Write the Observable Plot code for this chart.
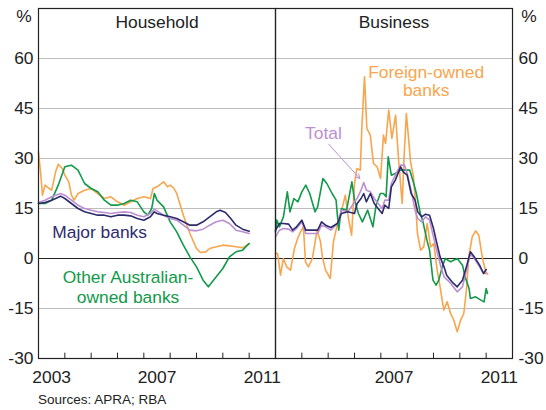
<!DOCTYPE html>
<html>
<head>
<meta charset="utf-8">
<script src="https://cdn.jsdelivr.net/npm/d3@7"></script>
<script src="https://cdn.jsdelivr.net/npm/@observablehq/plot@0.6"></script>
<style>
  html, body { margin: 0; padding: 0; background: #fff; }
  #chart svg { display: block; }
  #caption { font-family: "Liberation Sans", Arial, sans-serif; font-size: 13.5px; color: #222; padding-left: 38px; line-height: 20px; height: 20px; }
</style>
</head>
<body>
<div id="chart"></div>
<div id="caption">Sources: APRA; RBA</div>
<script>
// ---- categories ----
const panels = ["Household", "Business"];
const seriesNames = ["Foreign-owned banks", "Other Australian-owned banks", "Total", "Major banks"];
const seriesColors = ["#f8a54d", "#119a4a", "#bd8fd2", "#2d2b6c"];

// ---- tick labels ----
const yTicks = [-30, -15, 0, 15, 30, 45, 60];
const gridValues = [-15, 15, 30, 45, 60];
const yearTicks = [2004, 2005, 2006, 2007, 2008, 2009, 2010, 2011];
const householdYearLabels = ["2003", "2007", "2011"];
const businessYearLabels = ["2007", "2011"];

// ---- series values: [year, per cent] ----
const householdMajor = [[2003.0,16.5],[2003.25,16.8],[2003.5,17.5],[2003.84,18.7],[2004.0,18],[2004.25,16.5],[2004.5,15],[2004.75,14],[2005.0,13.5],[2005.25,13],[2005.5,13],[2005.75,12.5],[2006.0,13],[2006.25,13],[2006.5,12.8],[2006.75,12],[2007.0,11.5],[2007.25,12.5],[2007.4,14],[2007.5,13.5],[2007.75,13],[2008.0,12.5],[2008.25,12],[2008.5,11],[2008.75,10],[2009.0,10],[2009.25,11],[2009.5,12.5],[2009.75,14],[2009.9,14.5],[2010.1,13.8],[2010.3,12],[2010.5,10],[2010.75,8.8],[2011.0,8.2]];
const householdTotal = [[2003.0,16.8],[2003.25,17.5],[2003.5,18.5],[2003.84,19.5],[2004.0,19],[2004.25,17.5],[2004.5,16],[2004.75,15],[2005.0,14.5],[2005.25,14],[2005.5,13.8],[2005.75,13.5],[2006.0,13.8],[2006.25,14],[2006.5,13.8],[2006.75,13],[2007.0,12.5],[2007.25,13.5],[2007.4,14.8],[2007.5,14.3],[2007.75,13],[2008.0,12],[2008.25,11.5],[2008.5,10],[2008.75,8.5],[2009.0,8.3],[2009.25,8.8],[2009.5,10],[2009.75,11],[2010.0,11.5],[2010.25,10.5],[2010.5,8.5],[2010.75,8],[2011.0,7.5]];
const householdOther = [[2003.0,16.5],[2003.25,16.5],[2003.5,17.5],[2003.75,22],[2004.0,27.5],[2004.25,28],[2004.5,26.5],[2004.75,22.5],[2005.0,21],[2005.25,20],[2005.5,17.5],[2005.75,16],[2006.0,16],[2006.25,16.5],[2006.5,17.5],[2006.75,17],[2007.0,14],[2007.15,13],[2007.3,15],[2007.4,19.5],[2007.5,17.5],[2007.75,15.5],[2008.0,11],[2008.25,8],[2008.5,4],[2008.75,0.5],[2009.0,-2.5],[2009.25,-6.5],[2009.45,-8.5],[2009.75,-5.5],[2010.0,-3],[2010.25,0.5],[2010.5,2],[2010.75,2.5],[2011.0,4.5]];
const householdForeign = [[2003.0,32],[2003.1,24],[2003.15,19],[2003.25,22],[2003.4,21],[2003.5,20.5],[2003.65,26],[2003.75,28.3],[2003.9,27],[2004.0,25],[2004.15,23],[2004.25,19],[2004.35,17.5],[2004.5,19.5],[2004.75,20.5],[2005.0,21],[2005.25,19.5],[2005.5,18],[2005.75,18.5],[2006.0,17],[2006.25,16],[2006.5,17],[2006.75,18],[2007.0,18.5],[2007.25,18],[2007.35,21],[2007.5,21.5],[2007.75,23],[2007.9,21.5],[2008.0,22],[2008.15,21],[2008.25,19.5],[2008.5,13],[2008.75,7.5],[2009.0,3],[2009.15,1.8],[2009.35,2],[2009.5,3],[2009.75,3.5],[2010.0,4],[2010.25,3.8],[2010.5,3.5],[2010.75,3.2],[2011.0,4.5]];

const businessMajor = [[2003.0,8.5],[2003.15,10.5],[2003.3,10.5],[2003.5,10.3],[2003.65,8.5],[2003.8,9.5],[2004.0,11.5],[2004.15,8.5],[2004.4,8.5],[2004.6,8.5],[2004.75,11],[2004.9,10],[2005.1,9.3],[2005.35,10.5],[2005.5,13.5],[2005.75,14],[2006.0,13.5],[2006.1,16.5],[2006.25,18],[2006.35,19.5],[2006.45,17],[2006.6,19.5],[2006.75,16.5],[2006.95,14.5],[2007.05,13.5],[2007.15,16],[2007.3,15],[2007.4,21.5],[2007.55,23.5],[2007.75,27.5],[2007.85,26],[2008.0,25],[2008.15,19.5],[2008.3,17.5],[2008.4,14],[2008.55,12.5],[2008.7,13.3],[2008.85,13],[2009.0,9],[2009.1,5.5],[2009.25,0.5],[2009.4,-2.5],[2009.5,-5],[2009.7,-7],[2009.9,-8.5],[2010.1,-6.5],[2010.25,-2.5],[2010.4,2],[2010.55,0.5],[2010.75,-2],[2010.9,-4.5],[2011.0,-3.3]];
const businessTotal = [[2003.0,6.5],[2003.15,8.5],[2003.3,9],[2003.5,8.8],[2003.65,8],[2003.8,9],[2004.0,11],[2004.15,7.5],[2004.4,7.5],[2004.6,7.5],[2004.75,10],[2004.9,9.5],[2005.1,8.5],[2005.35,10.5],[2005.5,14.5],[2005.75,14],[2006.0,17],[2006.1,18],[2006.25,20.5],[2006.35,22.8],[2006.45,20.5],[2006.6,20],[2006.75,18],[2006.95,16],[2007.05,15],[2007.15,17.5],[2007.3,17.5],[2007.4,22.5],[2007.55,25],[2007.75,28],[2007.9,28],[2008.0,25.5],[2008.15,20.5],[2008.3,14.5],[2008.4,12],[2008.55,11],[2008.7,12.5],[2008.85,11.5],[2009.0,6.5],[2009.15,1.5],[2009.3,-3],[2009.4,-5.5],[2009.6,-7],[2009.9,-10],[2010.1,-8.5],[2010.25,-3.5],[2010.4,1.3],[2010.55,0],[2010.75,-2.5],[2010.9,-4.5],[2011.0,-4.5]];
const businessOther = [[2003.0,8],[2003.05,11.5],[2003.15,9.5],[2003.3,12.5],[2003.45,20],[2003.55,14],[2003.7,18],[2003.85,17],[2004.0,20],[2004.15,22],[2004.3,19.5],[2004.5,14],[2004.6,15.5],[2004.8,24],[2004.95,22.5],[2005.15,19.5],[2005.3,17.5],[2005.4,8.5],[2005.5,15],[2005.7,14.5],[2005.9,23],[2006.0,17.5],[2006.15,13.5],[2006.3,11],[2006.5,14.5],[2006.7,9.5],[2006.82,16],[2006.98,19.5],[2007.1,19.5],[2007.2,18.5],[2007.28,30.5],[2007.4,25],[2007.55,25.5],[2007.75,26.5],[2008.0,26.5],[2008.1,26.5],[2008.25,22.5],[2008.35,19.5],[2008.5,13.5],[2008.6,11],[2008.75,5.5],[2008.85,2.5],[2008.98,-6.5],[2009.1,-8],[2009.2,-6.5],[2009.35,-2],[2009.45,0],[2009.65,-1],[2009.9,0],[2010.1,-2],[2010.2,-5.5],[2010.35,-9],[2010.4,-12],[2010.6,-11.5],[2010.8,-12.5],[2010.92,-13],[2011.0,-9],[2011.05,-10.5]];
const businessForeign = [[2003.0,1.5],[2003.08,1.5],[2003.19,-5],[2003.3,0],[2003.42,-2.5],[2003.57,-3.5],[2003.72,3],[2003.84,6],[2003.95,8],[2004.06,9.5],[2004.14,-1],[2004.25,-2.5],[2004.4,0],[2004.58,8.5],[2004.71,5],[2004.78,0.5],[2004.9,-3.5],[2005.08,-6],[2005.2,5],[2005.34,10],[2005.47,13],[2005.65,19],[2005.77,12],[2005.89,7],[2006.0,22.5],[2006.09,27],[2006.22,26.5],[2006.28,39.5],[2006.38,54.5],[2006.47,39],[2006.6,37],[2006.72,28.5],[2006.86,27.5],[2006.99,24],[2007.1,37],[2007.18,34.5],[2007.3,44.5],[2007.42,36],[2007.56,43],[2007.67,30],[2007.81,16.5],[2007.88,30],[2007.97,43.5],[2008.13,29],[2008.24,24.5],[2008.32,16.5],[2008.39,7.5],[2008.51,2.5],[2008.63,3.5],[2008.76,10.5],[2008.89,3.5],[2009.01,4.5],[2009.14,-3.5],[2009.27,-9.5],[2009.39,-15.5],[2009.52,-13],[2009.65,-16.5],[2009.77,-18.5],[2009.9,-22],[2010.03,-18.5],[2010.15,-16.5],[2010.25,-9.5],[2010.34,0.5],[2010.47,6.5],[2010.6,8.3],[2010.72,7],[2010.85,0.5],[2010.98,-4],[2011.06,-4.7]];

// ---- annotations (label text, anchor point in data units) ----
const seriesLabels = [
  {panel: "Household", series: "Major banks", text: "Major banks", t: 2005.32, v: 7.9, lh: 1.1},
  {panel: "Household", series: "Other Australian-owned banks", text: "Other Australian-\nowned banks", t: 2006.4, v: -8.5, lh: 1.1},
  {panel: "Business", series: "Foreign-owned banks", text: "Foreign-owned\nbanks", t: 2008.72, v: 53.2, lh: 1.04},
  {panel: "Business", series: "Total", text: "Total", t: 2004.82, v: 37.6, lh: 1.1}
];
const totalArrow = [{panel: "Business", series: "Total", t1: 2005.02, v1: 34.3, t2: 2006.2, v2: 24.0}];

function rows(panel, series, pairs) {
  return pairs.map(([t, v]) => ({panel, series, t, v}));
}
const data = [
  ...rows("Household", "Foreign-owned banks", householdForeign),
  ...rows("Household", "Other Australian-owned banks", householdOther),
  ...rows("Household", "Total", householdTotal),
  ...rows("Household", "Major banks", householdMajor),
  ...rows("Business", "Foreign-owned banks", businessForeign),
  ...rows("Business", "Other Australian-owned banks", businessOther),
  ...rows("Business", "Total", businessTotal),
  ...rows("Business", "Major banks", businessMajor)
];
const yearLabelRows = [
  ...householdYearLabels.map(y => ({panel: "Household", y})),
  ...businessYearLabels.map(y => ({panel: "Business", y}))
];
const colorOf = s => seriesColors[seriesNames.indexOf(s)];
const ink = "#222";

const chart = Plot.plot({
  width: 546,
  height: 390,
  marginLeft: 38,
  marginRight: 34,
  marginTop: 8,
  marginBottom: 32,
  style: {fontFamily: "'Liberation Sans', Arial, sans-serif", fontSize: "17.4px", color: ink, background: "#fff", overflow: "visible"},
  fx: {domain: panels, padding: 0, axis: null, label: null},
  x: {domain: [2003, 2012], axis: null},
  y: {domain: [-30, 75], axis: null},
  marks: [
    Plot.ruleY(gridValues, {stroke: "#bdbdbd", strokeWidth: 1}),
    Plot.ruleY([0], {stroke: ink, strokeWidth: 1.2}),
    Plot.ruleX(yearTicks, {y1: -30, y2: -28.4, stroke: ink, strokeWidth: 1}),
    ...seriesNames.map(s => Plot.line(data.filter(d => d.series === s), {
      x: "t", y: "v", fx: "panel", stroke: colorOf(s), strokeWidth: 1.6, strokeLinejoin: "round"
    })),
    Plot.frame({stroke: ink, strokeWidth: 1.2}),
    Plot.axisY({anchor: "left", ticks: yTicks, tickSize: 0, tickPadding: 5, tickFormat: d => String(d), label: null}),
    Plot.axisY({anchor: "right", ticks: yTicks, tickSize: 0, tickPadding: 6, tickFormat: d => String(d), label: null}),
    Plot.text(panels, {fx: d => d, text: d => d, frameAnchor: "top", lineAnchor: "middle", dy: 14, fill: ink}),
    Plot.text(["%"], {fx: () => "Household", text: d => d, frameAnchor: "top-left", textAnchor: "middle", lineAnchor: "middle", dx: -14.5, dy: 8, fill: ink}),
    Plot.text(["%"], {fx: () => "Business", text: d => d, frameAnchor: "top-right", textAnchor: "middle", lineAnchor: "middle", dx: 16.5, dy: 8, fill: ink}),
    Plot.text(yearLabelRows, {fx: "panel", x: d => +d.y + 0.5, text: "y", frameAnchor: "bottom", lineAnchor: "middle", dy: 19, fill: ink}),
    ...seriesLabels.map(l => Plot.text([l], {fx: "panel", x: "t", y: "v", text: "text", fill: colorOf(l.series), lineHeight: l.lh, textAnchor: "middle", lineAnchor: "middle"})),
    Plot.arrow(totalArrow, {fx: "panel", x1: "t1", y1: "v1", x2: "t2", y2: "v2", stroke: colorOf("Total"), strokeWidth: 1, headLength: 7})
  ]
});
document.getElementById("chart").appendChild(chart);
</script>
</body>
</html>
